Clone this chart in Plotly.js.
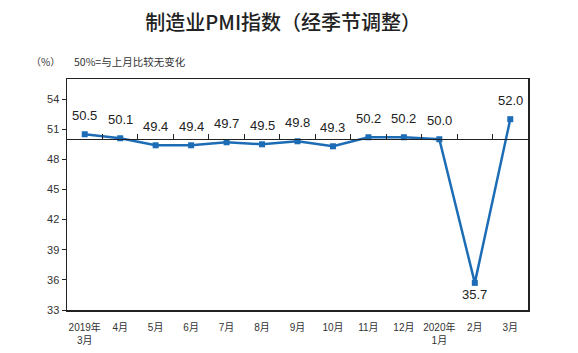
<!DOCTYPE html>
<html>
<head>
<meta charset="utf-8">
<script src="https://cdn.plot.ly/plotly-3.0.1.min.js"></script>
<style>html,body{margin:0;padding:0;background:#fff;}#chart{width:578px;height:353px;}</style>
</head>
<body>
<div id="chart"></div>
<script>
const categories = ["2019年<br>3月","4月","5月","6月","7月","8月","9月","10月","11月","12月","2020年<br>1月","2月","3月"];
const pmiValues = [50.5,50.1,49.4,49.4,49.7,49.5,49.8,49.3,50.2,50.2,50.0,35.7,52.0];
const valueLabels = ["50.5","50.1","49.4","49.4","49.7","49.5","49.8","49.3","50.2","50.2","50.0","35.7","52.0"];
const yTicks = [33,36,39,42,45,48,51,54];

const xIdx = categories.map((_, i) => i);
const boundaries = categories.slice(1).map((_, i) => i + 0.5);
const minVal = Math.min(...pmiValues);
const lineColor = "#1c6db5";

const traces = [
  {
    x: xIdx, y: pmiValues, type: "scatter", mode: "lines+markers",
    line: {color: lineColor, width: 2.5},
    marker: {symbol: "square", size: 6, color: lineColor},
    hoverinfo: "skip", xaxis: "x", yaxis: "y"
  },
  {
    x: xIdx, y: pmiValues, type: "scatter", mode: "none",
    hoverinfo: "skip", xaxis: "x2", yaxis: "y", showlegend: false
  }
];

const annotations = pmiValues.map((v, i) => ({
  x: i, y: v, xref: "x", yref: "y", text: valueLabels[i], showarrow: false,
  yshift: v === minVal ? -12 : 19,
  font: {family: "Liberation Sans, Arial, sans-serif", size: 13, color: "#222"}
}));
annotations.push(
  {xref: "paper", yref: "paper", x: -0.047, y: 1.075, xanchor: "center", yanchor: "middle",
   text: "（%）", showarrow: false,
   font: {family: "Noto Sans CJK SC, sans-serif", size: 10, color: "#333"}},
  {xref: "paper", yref: "paper", x: 0.01, y: 1.075, xanchor: "left", yanchor: "middle",
   text: "50%=与上月比较无变化", showarrow: false,
   font: {family: "Noto Sans CJK SC, sans-serif", size: 10.5, color: "#333"}}
);

const layout = {
  width: 578, height: 353,
  margin: {l: 67, r: 50, t: 79, b: 43},
  paper_bgcolor: "#fff", plot_bgcolor: "#fff",
  showlegend: false,
  title: {
    text: "制造业PMI指数（经季节调整）",
    x: 0.49, xanchor: "center", y: 0.935, yanchor: "middle",
    font: {family: "Noto Sans CJK SC, sans-serif", size: 20, color: "#222", weight: 500}
  },
  xaxis: {
    range: [-0.5, categories.length - 0.5],
    tickmode: "array", tickvals: xIdx, ticktext: categories,
    ticks: "", showgrid: false, zeroline: false, ticklabelstandoff: 7,
    showline: true, linecolor: "#222", linewidth: 1.5, mirror: true,
    tickfont: {family: "Liberation Sans, Noto Sans CJK SC, sans-serif", size: 10, color: "#333"}
  },
  xaxis2: {
    overlaying: "x", anchor: "free", position: (50 - 33) / (56 - 33), side: "top",
    range: [-0.5, categories.length - 0.5],
    tickmode: "array", tickvals: boundaries, ticks: "outside", ticklen: 5,
    tickcolor: "#222", tickwidth: 1,
    showticklabels: false, showgrid: false, zeroline: false,
    showline: true, linecolor: "#222", linewidth: 1.2
  },
  yaxis: {
    range: [33, 56],
    tickmode: "array", tickvals: yTicks,
    ticks: "outside", ticklen: 4, tickcolor: "#222",
    showgrid: false, zeroline: false,
    showline: true, linecolor: "#222", linewidth: 1.5, mirror: true,
    tickfont: {family: "Liberation Sans, Arial, sans-serif", size: 11, color: "#333"}
  },
  annotations: annotations
};

Plotly.newPlot("chart", traces, layout, {staticPlot: true, displayModeBar: false});
</script>
</body>
</html>
